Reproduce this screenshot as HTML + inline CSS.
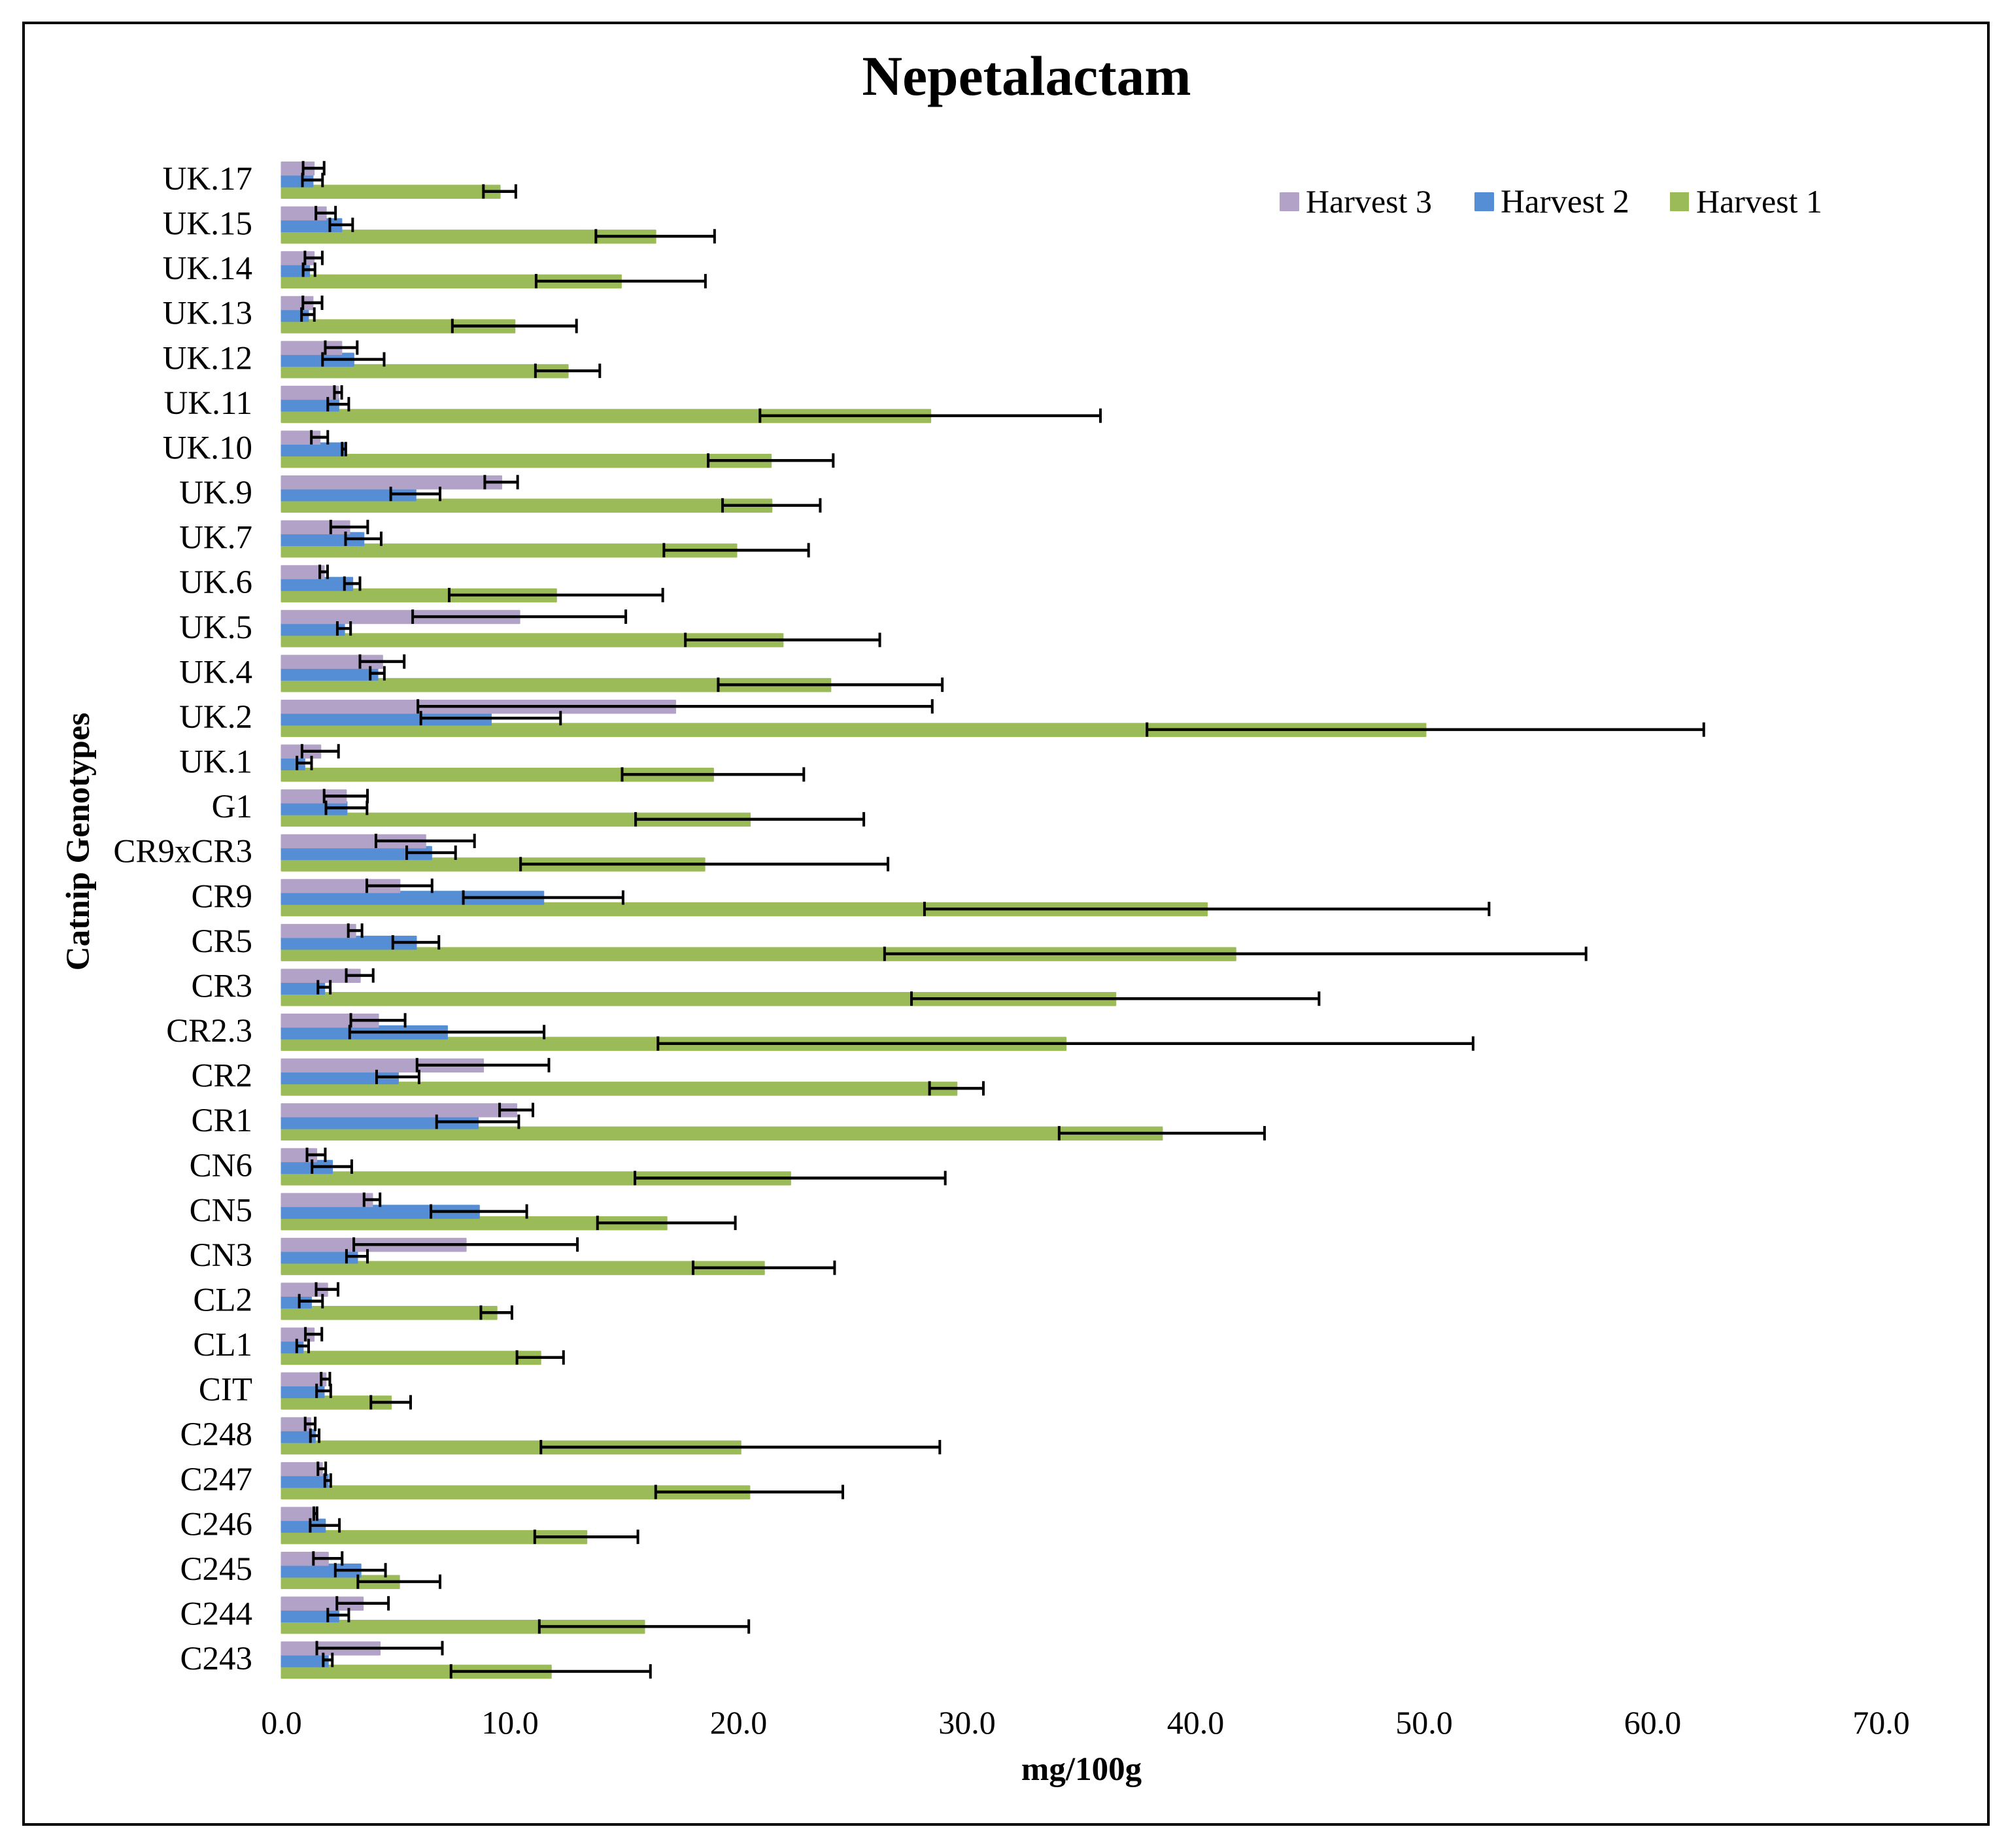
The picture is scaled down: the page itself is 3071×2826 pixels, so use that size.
<!DOCTYPE html>
<html lang="en">
<head>
<meta charset="utf-8">
<title>Nepetalactam</title>
<style>
html,body{margin:0;padding:0;background:#fff;}
svg{display:block;}
text{font-family:"Liberation Serif",serif;fill:#000;}
</style>
</head>
<body>
<svg id="chart" xmlns="http://www.w3.org/2000/svg" width="3071" height="2826" viewBox="0 0 3071 2826">
  <rect x="0" y="0" width="3071" height="2826" fill="#ffffff"/>
  <rect x="36" y="35" width="3005" height="2755" fill="none" stroke="#000" stroke-width="4"/>
  <text x="1570" y="145" font-size="85.5" font-weight="bold" text-anchor="middle">Nepetalactam</text>
  <text transform="translate(136 1287) rotate(-90)" font-size="51.3" font-weight="bold" text-anchor="middle">Catnip Genotypes</text>
  <text x="1654" y="2722" font-size="51" font-weight="bold" text-anchor="middle">mg/100g</text>
  <g>
    <rect x="1957" y="294" width="30" height="29" rx="1.5" fill="#B2A2C7"/>
    <text x="1997" y="325" font-size="50">Harvest 3</text>
    <rect x="2255" y="294" width="30" height="29" rx="1.5" fill="#558ED5"/>
    <text x="2295" y="325" font-size="51">Harvest 2</text>
    <rect x="2554" y="294" width="29" height="29" fill="#9BBB59"/>
    <text x="2594" y="325" font-size="50">Harvest 1</text>
  </g>
  <g id="plot"></g>
</svg>
<script>
const categories = ["UK.17","UK.15","UK.14","UK.13","UK.12","UK.11","UK.10","UK.9","UK.7","UK.6","UK.5","UK.4","UK.2","UK.1","G1","CR9xCR3","CR9","CR5","CR3","CR2.3","CR2","CR1","CN6","CN5","CN3","CL2","CL1","CIT","C248","C247","C246","C245","C244","C243"];
const harvest1 = [9.63,16.45,14.94,10.28,12.61,28.5,21.51,21.54,20.0,12.1,22.03,24.12,50.2,18.98,20.59,18.6,40.62,41.87,36.61,34.43,29.65,38.65,22.36,16.94,21.21,9.49,11.41,4.86,20.18,20.57,13.43,5.22,15.96,11.87];
const harvest1Err = [0.71,2.6,3.71,2.72,1.41,7.46,2.74,2.14,3.17,4.68,4.26,4.91,12.2,3.98,5.0,8.05,12.37,15.37,8.93,17.86,1.18,4.5,6.8,3.02,3.1,0.68,1.02,0.87,8.74,4.1,2.26,1.8,4.59,4.37];
const harvest2 = [1.43,2.69,1.28,1.23,3.22,2.56,2.81,5.94,3.66,3.17,2.81,4.27,9.24,1.07,2.92,6.63,11.54,5.96,1.94,7.32,5.17,8.67,2.28,8.72,3.38,1.36,1.0,1.92,1.53,2.1,1.97,3.53,2.56,2.1];
const harvest2Err = [0.44,0.5,0.26,0.28,1.35,0.46,0.08,1.08,0.78,0.34,0.29,0.31,3.06,0.32,0.9,1.07,3.5,1.01,0.27,4.26,0.93,1.8,0.87,2.1,0.46,0.51,0.26,0.31,0.19,0.13,0.64,1.1,0.46,0.2];
const harvest3 = [1.48,2.01,1.48,1.43,2.69,2.55,1.74,9.7,3.04,1.92,10.49,4.48,17.32,1.77,2.89,6.37,5.24,3.3,3.5,4.3,8.9,10.36,1.59,4.04,8.14,2.07,1.48,2.0,1.33,1.84,1.56,2.1,3.63,4.37];
const harvest3Err = [0.46,0.43,0.38,0.42,0.7,0.16,0.36,0.72,0.81,0.17,4.67,0.97,11.27,0.8,0.95,2.16,1.43,0.3,0.59,1.19,2.89,0.73,0.4,0.35,4.9,0.48,0.36,0.19,0.22,0.17,0.07,0.63,1.13,2.75];
const xTickValues = [0,10,20,30,40,50,60,70];
const xTickLabels = ["0.0","10.0","20.0","30.0","40.0","50.0","60.0","70.0"];

const NS = "http://www.w3.org/2000/svg";
const plot = document.getElementById("plot");

function xScale(v){ return 429.5 + v * 34.9; }
function xTickScale(v){ return 430.5 + v * 34.95; }
function yScale(i){ return 247 + i * 68.58; }

function make(tag, attrs){
  const el = document.createElementNS(NS, tag);
  for (const k in attrs) el.setAttribute(k, attrs[k]);
  plot.appendChild(el);
  return el;
}

const BAR_H = 21.5;

function drawSeries(values, offset, color, slug){
  values.forEach(function(v, i){
    const y = yScale(i) + offset;
    const bar = make("rect", {x: xScale(0), y: y, width: xScale(v) - xScale(0), height: BAR_H, fill: color, rx: 1});
    
    
  });
}

function drawErrors(values, errors, offset, slug){
  values.forEach(function(v, i){
    const cy = yScale(i) + offset + BAR_H / 2 - 0.5;
    const lo = xScale(v - errors[i]) - 1.5;
    const hi = xScale(v + errors[i]) - 1.5;
    const stem = make("line", {x1: lo, x2: hi, y1: cy, y2: cy, stroke: "#000", "stroke-width": 4.4});
    
    
    const capLo = make("line", {x1: lo, x2: lo, y1: cy - 11, y2: cy + 11, stroke: "#000", "stroke-width": 4});
    
    
    const capHi = make("line", {x1: hi, x2: hi, y1: cy - 11, y2: cy + 11, stroke: "#000", "stroke-width": 4});
    
    
  });
}

drawSeries(harvest1, 35.5, "#9BBB59", "harvest-1");
drawSeries(harvest2, 18, "#558ED5", "harvest-2");
drawSeries(harvest3, 0, "#B2A2C7", "harvest-3");
drawErrors(harvest1, harvest1Err, 35.5, "harvest-1");
drawErrors(harvest2, harvest2Err, 18, "harvest-2");
drawErrors(harvest3, harvest3Err, 0, "harvest-3");

categories.forEach(function(name, i){
  const t = make("text", {x: 386, y: yScale(i) + 43, "font-size": 51, "text-anchor": "end"});
  t.textContent = name;
  
  
});

xTickValues.forEach(function(v, i){
  const t = make("text", {x: xTickScale(v), y: 2651, "font-size": 50, "text-anchor": "middle"});
  t.textContent = xTickLabels[i];
  
  
});
</script>
</body>
</html>
